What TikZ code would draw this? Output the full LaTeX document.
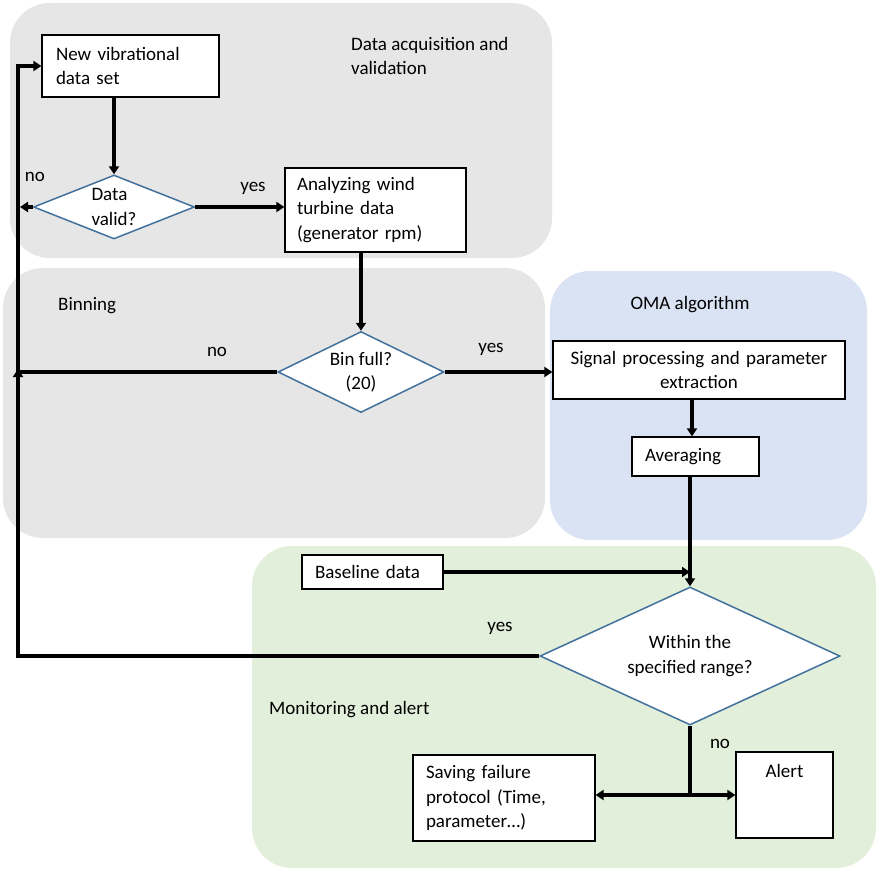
\documentclass[tikz,border=0pt]{standalone}
\usepackage{fontspec}
\setmainfont{Carlito}
\usetikzlibrary{arrows.meta,shapes.geometric}
\definecolor{panelgray}{HTML}{E6E6E6}
\definecolor{panelblue}{HTML}{DAE3F3}
\definecolor{panelgreen}{HTML}{E2EFDA}
\definecolor{diaedge}{HTML}{41719C}
\tikzset{
  txt/.style={font=\fontsize{19}{24.5}\selectfont},
  panel/.style={rounded corners=40, draw=none},
  box/.style={txt, draw=black, line width=1.2, fill=white, inner sep=0, rectangle},
  dia/.style={txt, diamond, draw=diaedge, line width=1.5, fill=white, inner sep=0, aspect=2},
  conn/.style={line width=3.5, line join=miter, -{Triangle[length=8,width=10]}},
  plain/.style={line width=3.5, line join=miter},
  lab/.style={txt, inner sep=0}
}
\begin{document}
\begin{tikzpicture}[x=1pt,y=-1pt]
\useasboundingbox (0,0) rectangle (878,872);
% panels
\fill[panelgray, rounded corners=40] (10,3) rectangle (552,258);
\fill[panelgray, rounded corners=40] (3,268) rectangle (545,538);
\fill[panelblue, rounded corners=40] (550,271) rectangle (867,540);
\fill[panelgreen, rounded corners=40] (252,546) rectangle (876,868);
% panel titles
\node[lab, anchor=west, align=left] (t1) at (351,56) {Data acquisition and\\validation};
\node[lab, anchor=west] (t2) at (58,306) {Binning};
\node[lab] (t3) at (690,305) {OMA algorithm};
\node[lab, anchor=west] (t4) at (269,710) {Monitoring and alert};
% boxes
\node[box, minimum width=177, minimum height=62, text width=149, align=left] (new) at (130.5,66) {New vibrational\\data set};
\node[box, minimum width=181, minimum height=84, text width=157, align=left] (ana) at (375.5,210) {Analyzing wind\\turbine data\\(generator rpm)};
\node[box, minimum width=292, minimum height=58, text width=270, align=center] (sig) at (699,370) {Signal processing and parameter\\extraction};
\node[box, minimum width=127, minimum height=39, text width=101, align=left] (avg) at (695.5,456.5) {Averaging};
\node[box, minimum width=141, minimum height=34, text width=115, align=left] (base) at (372.5,572) {Baseline data};
\node[box, minimum width=182, minimum height=86, text width=156, align=left] (save) at (504,798) {Saving failure\\protocol (Time,\\parameter…)};
\node[box, minimum width=97, minimum height=86, text width=80, align=center] (alert) at (784.5,795) {Alert\\\mbox{}\\\mbox{}};
% diamonds
\node[dia, minimum width=161, minimum height=64, align=left] (dv) at (114,207) {Data\\valid?};
\node[dia, minimum width=166, minimum height=81, align=center] (bin) at (361,372) {Bin full?\\(20)};
\node[dia, minimum width=300, minimum height=138, align=center] (win) at (690,656) {Within the\\specified range?};
% coordinates
\coordinate (dvno) at (20,207);
\coordinate (ltop) at (18,66);
\coordinate (lmid) at (18,372);
\coordinate (split) at (690,795);
% connectors
\draw[conn] (new.south -| dv.north) -- (dv.north);
\draw[conn] (dv.west) -- (dvno);
\draw[conn] (dv.east) -- (ana.west |- dv.east);
\draw[conn] (ana.south -| bin.north) -- (bin.north);
\draw[conn] (bin.east) -- (sig.west |- bin.east);
\draw[conn] (bin.west) -| (ltop) -- (new.west);
\draw[conn] (win.west) -| ([yshift=3]lmid);
\draw[conn] (sig.south -| 692,0) -- (avg.north -| 692,0);
\draw[conn] (avg.south -| win.north) -- (win.north);
\draw[conn] (base.east) -- (base.east -| win.north);
\draw[plain] (win.south) -- (split);
\draw[conn] (split) -- (save.east |- split);
\draw[conn] (split) -- (alert.west |- split);
% connector labels
\node[lab] (l1) at (35,177) {no};
\node[lab] (l2) at (253,188) {yes};
\node[lab] (l3) at (217,352) {no};
\node[lab] (l4) at (491,349) {yes};
\node[lab] (l5) at (500,628) {yes};
\node[lab] (l6) at (720,744) {no};
\end{tikzpicture}
\end{document}
